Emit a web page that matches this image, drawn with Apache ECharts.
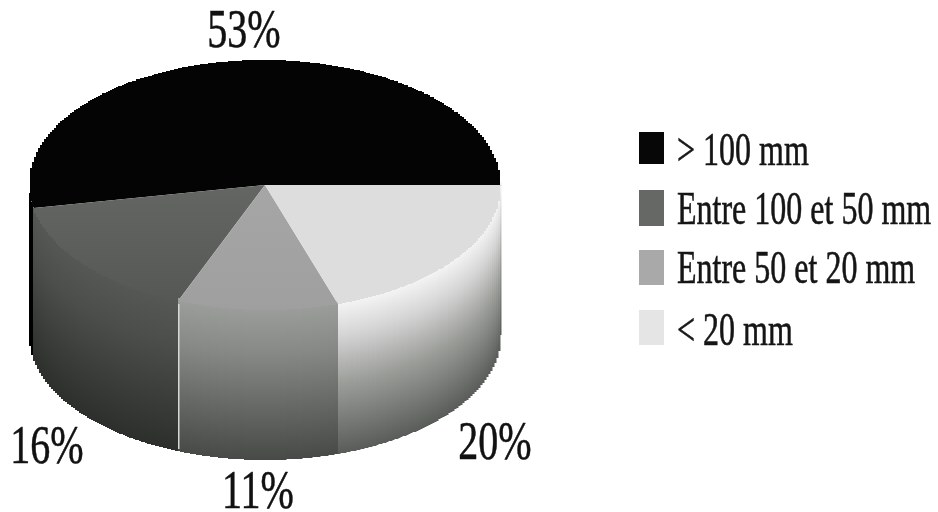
<!DOCTYPE html>
<html>
<head>
<meta charset="utf-8">
<style>html,body{margin:0;padding:0;background:#fff}#chart{width:938px;height:512px}</style>
<script src="https://cdn.jsdelivr.net/npm/echarts@6/dist/echarts.min.js"></script>
</head>
<body>
<div id="chart"></div>
<script>
// Rainfall classes and their share of the total, in percent.
const categories = ['> 100 mm', 'Entre 100 et 50 mm', 'Entre 50 et 20 mm', '< 20 mm'];
const shares = [53, 16, 11, 20];

// Colours per class: top face (apex to rim), legend swatch, wall gradient from rim to base.
const topColors = [['#040404', '#040404'], ['#636663', '#565856'], ['#a6a6a6', '#9e9f9e'], ['#dddddd', '#dddddd']];
const swatchColors = ['#070707', '#666866', '#a9a9aa', '#e5e5e5'];
const wallStops = [
  [[0, '#000000'], [1, '#000000']],
  [[0, '#565856'], [0.3, '#4c4e4c'], [0.65, '#3c3e3c'], [1, '#2d2f2d']],
  [[0, '#9b9e9b'], [0.3, '#868986'], [0.65, '#676967'], [1, '#484a48']],
  [[0, '#f6f6f6'], [0.22, '#d6d6d6'], [0.55, '#9a9c98'], [1, '#5a5c5a']]
];

// Cylinder layout: ellipse of the top face, height of the wall, rim step and wall overlap under the face.
const pie = { cx: 265, cy: 185, rx: 236, ry: 125, wall: 150, step: 2, overlap: 3 };
// Anchor of each percentage label.
const labelAnchors = [[244, 33], [47, 449], [258, 494], [495, 445]];
// Legend layout.
const legendLayout = { swatchX: 639, swatchW: 25, swatchY: [132, 190, 250, 310], swatchH: [32, 36, 35, 35], textX: 677, textY: [153, 212, 271, 333] };

const RAD = Math.PI / 180;
// Slices run counter-clockwise on screen from the right-hand end of the ellipse.
const startAngles = shares.map((_, i) => shares.slice(0, i).reduce((a, b) => a + b, 0) * 3.6);

function rimPoint(deg) {
  return [pie.cx + pie.rx * Math.cos(deg * RAD), pie.cy - pie.ry * Math.sin(deg * RAD)];
}

// Outline of a top face; the rim is snapped to a coarse grid to keep its stepped edge.
function topFace(a0, a1) {
  const pts = [[pie.cx, pie.cy]];
  let prev = null;
  const count = Math.ceil((a1 - a0) / 0.5);
  for (let k = 0; k <= count; k++) {
    const p = rimPoint(a0 + (a1 - a0) * k / count);
    const snapped = [Math.round(p[0] / pie.step) * pie.step, Math.round(p[1])];
    if (prev && prev[0] !== snapped[0] && prev[1] !== snapped[1]) pts.push([snapped[0], prev[1]]);
    pts.push(snapped);
    prev = snapped;
  }
  return pts;
}

// The front wall, as narrow columns that each fade from rim to base.
function wallColumns(a0, a1, stops) {
  const from = Math.max(a0, 180);
  if (a1 <= from) return [];
  const x0 = Math.round(rimPoint(from)[0]);
  const x1 = Math.round(rimPoint(a1)[0]);
  const out = [];
  for (let x = x0; x < x1; x += pie.step) {
    const u = (x + pie.step / 2 - pie.cx) / pie.rx;
    const y = Math.round(pie.cy + pie.ry * Math.sqrt(Math.max(0, 1 - u * u)));
    out.push({
      type: 'rect',
      silent: true,
      shape: { x: x, y: y - pie.overlap, width: Math.min(pie.step, x1 - x) + 0.5, height: pie.wall + pie.overlap },
      style: {
        fill: {
          type: 'linear', x: 0, y: 0, x2: 0, y2: 1,
          colorStops: stops.map(s => ({ offset: s[0], color: s[1] }))
        }
      }
    });
  }
  return out;
}

function stretchedText(text, x, y, size, scaleY, align, fill, weight) {
  return {
    type: 'text', x: x, y: y, scaleY: scaleY, silent: true,
    style: {
      text: text, fill: fill, font: size + 'px "Liberation Serif"', align: align, verticalAlign: 'middle',
      stroke: fill, lineWidth: weight
    }
  };
}

function renderSlice(params, api) {
  const i = params.dataIndex;
  const share = api.value(0);
  const a0 = startAngles[i];
  const a1 = a0 + share * 3.6;
  const children = wallColumns(a0, a1, wallStops[i]);

  // Pale highlight down the left edge of the middle class's wall.
  if (i === 2) {
    const p = rimPoint(a0);
    children.push({
      type: 'rect', silent: true,
      shape: { x: Math.round(p[0]), y: Math.round(p[1]) + 3, width: 1.5, height: pie.wall - 5 },
      style: { fill: '#d6d8d6' }
    });
  }

  children.push({
    type: 'polygon', silent: true,
    shape: { points: topFace(a0, a1) },
    style: {
      fill: {
        type: 'linear', x: 0, y: 0, x2: 0, y2: 1,
        colorStops: [{ offset: 0, color: topColors[i][0] }, { offset: 1, color: topColors[i][1] }]
      }
    }
  });

  children.push(stretchedText(share + '%', labelAnchors[i][0], labelAnchors[i][1], 40, 1.36, 'center', '#111111', 0.4));

  const lg = legendLayout;
  children.push({
    type: 'rect', silent: true,
    shape: { x: lg.swatchX, y: lg.swatchY[i], width: lg.swatchW, height: lg.swatchH[i] },
    style: { fill: swatchColors[i] }
  });
  children.push(stretchedText(categories[i], lg.textX, lg.textY[i], 32, 1.42, 'left', '#151515', 0.4));

  return { type: 'group', children: children };
}

const chart = echarts.init(document.getElementById('chart'), null, { renderer: 'canvas' });
chart.setOption({
  animation: false,
  backgroundColor: '#ffffff',
  series: [{
    type: 'custom',
    coordinateSystem: 'none',
    renderItem: renderSlice,
    data: categories.map((name, i) => ({ name: name, value: shares[i] }))
  }]
});
</script>
</body>
</html>
